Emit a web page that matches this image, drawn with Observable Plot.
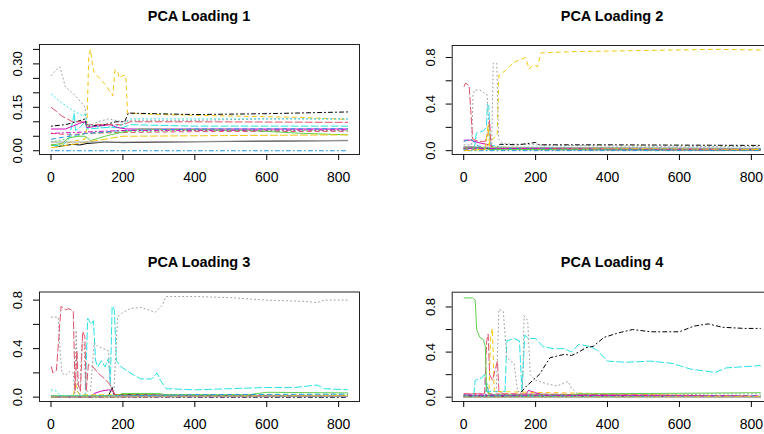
<!DOCTYPE html>
<html>
<head>
<meta charset="utf-8">
<script src="https://cdn.jsdelivr.net/npm/d3@7"></script>
<script src="https://cdn.jsdelivr.net/npm/@observablehq/plot@0.6"></script>
<style>
  html, body { margin: 0; padding: 0; background: #fff; }
  #chart { position: relative; width: 764px; height: 434px; overflow: hidden; background: #fff; font-family: "Liberation Sans", Arial, sans-serif; }
  .title { position: absolute; font-weight: bold; font-size: 14.5px; transform: translate(-50%, -50%); white-space: nowrap; color: #000; }
  .panel { position: absolute; }
</style>
</head>
<body>
<div id="chart"></div>
<script>
// ---- data ----
const titles = ["PCA Loading 1", "PCA Loading 2", "PCA Loading 3", "PCA Loading 4"];
const xTicks = [0, 200, 400, 600, 800];
const yTicks1 = [0, 0.05, 0.10, 0.15, 0.20, 0.25, 0.30, 0.35];
const yLabels1 = [0, 0.15, 0.30];
const yTicks234 = [0, 0.2, 0.4, 0.6, 0.8];
const yLabels234 = [0, 0.4, 0.8];

// each panel: 16 series (R matplot order), each a list of [index, loading]
const loading1 = [
  [[1,0.02],[20,0.015],[40,0.018],[60,0.022],[80,0.02],[100,0.025],[150,0.03],[200,0.028],[300,0.03],[500,0.032],[700,0.034],[825,0.035]],
  [[1,0.06],[50,0.055],[100,0.06],[200,0.063],[400,0.066],[825,0.067]],
  [[1,0.03],[40,0.04],[80,0.055],[100,0.06],[200,0.065],[400,0.07],[825,0.07]],
  [[1,0.0],[825,0.0]],
  [[1,0.02],[30,0.015],[50,0.04],[60,0.1],[65,0.13],[68,0.07],[80,0.08],[95,0.1],[100,0.075],[150,0.08],[200,0.08],[220,0.09],[400,0.085],[600,0.085],[825,0.085]],
  [[1,0.075],[40,0.075],[60,0.085],[80,0.095],[95,0.1],[100,0.08],[130,0.085],[165,0.09],[185,0.08],[210,0.075],[400,0.075],[825,0.075]],
  [[1,0.02],[40,0.025],[70,0.035],[95,0.04],[100,0.09],[105,0.33],[110,0.35],[115,0.3],[120,0.27],[150,0.23],[172,0.19],[178,0.28],[186,0.27],[190,0.25],[200,0.26],[208,0.26],[213,0.13],[300,0.125],[500,0.12],[700,0.115],[825,0.108]],
  [[1,0.26],[15,0.28],[25,0.29],[40,0.22],[60,0.2],[75,0.18],[95,0.15],[100,0.08],[130,0.1],[160,0.11],[200,0.1],[220,0.105],[400,0.105],[600,0.11],[825,0.11]],
  [[1,0.085],[40,0.09],[70,0.1],[95,0.11],[100,0.085],[150,0.09],[180,0.1],[205,0.1],[215,0.13],[400,0.125],[600,0.128],[825,0.134]],
  [[1,0.15],[30,0.12],[60,0.1],[90,0.1],[100,0.09],[200,0.09],[220,0.1],[400,0.1],[825,0.098]],
  [[1,0.02],[30,0.025],[50,0.045],[80,0.05],[95,0.05],[110,0.035],[150,0.05],[200,0.065],[250,0.075],[550,0.07],[700,0.06],[825,0.055]],
  [[1,0.04],[50,0.05],[100,0.06],[200,0.07],[400,0.075],[825,0.076]],
  [[1,0.195],[30,0.165],[60,0.14],[90,0.12],[95,0.13],[100,0.09],[150,0.08],[200,0.09],[220,0.11],[500,0.11],[825,0.11]],
  [[1,0.06],[100,0.065],[200,0.07],[825,0.072]],
  [[1,0.01],[100,0.03],[200,0.05],[825,0.055]],
  [[1,0.03],[200,0.03],[825,0.036]]
];
const loading2 = [
  [[1,0.03],[30,0.03],[60,0.02],[90,0.01],[825,0.005]],
  [[1,0.01],[825,0.005]],
  [[1,0.02],[100,0.01],[825,0.01]],
  [[1,0.0],[825,0.0]],
  [[1,0.02],[30,0.02],[35,0.15],[55,0.17],[63,0.2],[66,0.4],[70,0.38],[74,0.05],[100,0.03],[200,0.02],[825,0.015]],
  [[1,0.09],[20,0.09],[40,0.07],[70,0.05],[85,0.02],[825,0.01]],
  [[1,0.02],[60,0.02],[80,0.1],[88,0.12],[93,0.13],[98,0.65],[105,0.66],[120,0.7],[140,0.76],[172,0.8],[182,0.7],[190,0.73],[200,0.73],[205,0.72],[215,0.84],[300,0.85],[500,0.86],[700,0.87],[825,0.865]],
  [[1,0.05],[22,0.05],[26,0.48],[30,0.52],[45,0.52],[55,0.5],[65,0.48],[72,0.1],[78,0.05],[82,0.75],[92,0.75],[97,0.1],[110,0.06],[200,0.05],[400,0.04],[825,0.035]],
  [[1,0.02],[90,0.02],[100,0.055],[150,0.05],[200,0.07],[210,0.05],[400,0.05],[825,0.045]],
  [[1,0.55],[5,0.58],[15,0.56],[25,0.1],[40,0.08],[60,0.08],[68,0.15],[72,0.26],[76,0.05],[85,0.02],[825,0.015]],
  [[1,0.02],[100,0.01],[825,0.008]],
  [[1,0.08],[20,0.1],[40,0.04],[80,0.02],[825,0.01]],
  [[1,0.01],[100,0.03],[200,0.03],[825,0.02]],
  [[1,0.02],[825,0.01]],
  [[1,0.0],[60,0.01],[68,0.22],[72,0.03],[825,0.01]],
  [[1,0.03],[825,0.02]]
];
const loading3 = [
  [[1,0.0],[160,0.01],[170,0.08],[175,0.02],[825,0.005]],
  [[1,0.01],[825,0.01]],
  [[1,0.01],[825,0.02]],
  [[1,0.0],[825,0.0]],
  [[1,0.01],[95,0.01],[102,0.65],[112,0.6],[118,0.63],[124,0.3],[130,0.25],[140,0.3],[150,0.25],[160,0.32],[165,0.1],[170,0.75],[176,0.72],[182,0.3],[195,0.25],[220,0.2],[250,0.15],[280,0.15],[295,0.2],[302,0.15],[320,0.07],[400,0.06],[500,0.07],[600,0.08],[680,0.08],[740,0.1],[760,0.07],[825,0.06]],
  [[1,0.0],[110,0.0],[120,0.03],[140,0.05],[160,0.06],[172,0.05],[180,0.01],[825,0.005]],
  [[1,0.0],[62,0.0],[68,0.13],[72,0.05],[80,0.02],[825,0.01]],
  [[1,0.66],[20,0.66],[25,0.4],[30,0.2],[40,0.18],[50,0.21],[62,0.2],[66,0.02],[70,0.55],[74,0.05],[80,0.02],[86,0.45],[92,0.45],[96,0.05],[110,0.05],[120,0.45],[130,0.42],[145,0.4],[160,0.38],[166,0.05],[175,0.05],[185,0.66],[200,0.7],[220,0.73],[250,0.74],[290,0.7],[300,0.73],[310,0.76],[320,0.83],[400,0.83],[500,0.82],[600,0.8],[700,0.79],[740,0.78],[760,0.8],[825,0.8]],
  [[1,0.0],[825,0.0]],
  [[1,0.25],[5,0.2],[15,0.22],[22,0.5],[28,0.75],[40,0.72],[50,0.73],[62,0.71],[67,0.05],[72,0.38],[76,0.1],[82,0.05],[88,0.54],[94,0.5],[98,0.05],[104,0.27],[120,0.24],[130,0.2],[150,0.15],[165,0.1],[172,0.05],[180,0.01],[825,0.01]],
  [[1,0.01],[180,0.01],[200,0.03],[300,0.03],[320,0.02],[550,0.02],[600,0.04],[825,0.035]],
  [[1,0.0],[200,0.01],[400,0.02],[825,0.025]],
  [[1,0.06],[15,0.05],[25,0.01],[825,0.01]],
  [[1,0.0],[825,0.005]],
  [[1,0.0],[825,0.01]],
  [[1,0.0],[825,0.005]]
];
const loading4 = [
  [[1,0.01],[825,0.005]],
  [[1,0.03],[60,0.03],[825,0.01]],
  [[1,0.01],[825,0.01]],
  [[1,0.0],[60,0.01],[65,0.12],[70,0.02],[825,0.005]],
  [[1,0.02],[28,0.02],[32,0.15],[50,0.17],[58,0.2],[63,0.05],[115,0.05],[120,0.5],[140,0.52],[155,0.5],[162,0.05],[170,0.55],[180,0.52],[200,0.52],[220,0.45],[250,0.43],[280,0.43],[300,0.4],[320,0.47],[350,0.45],[370,0.42],[400,0.32],[450,0.31],[520,0.32],[580,0.3],[630,0.25],[700,0.22],[730,0.26],[825,0.28]],
  [[1,0.01],[170,0.01],[180,0.06],[200,0.04],[220,0.02],[825,0.005]],
  [[1,0.01],[70,0.01],[75,0.55],[80,0.61],[85,0.05],[825,0.005]],
  [[1,0.01],[90,0.01],[98,0.78],[110,0.76],[120,0.35],[140,0.3],[150,0.05],[163,0.05],[168,0.72],[178,0.68],[185,0.2],[200,0.15],[230,0.12],[260,0.1],[290,0.14],[300,0.08],[320,0.02],[600,0.02],[700,0.03],[825,0.03]],
  [[1,0.01],[150,0.01],[175,0.1],[210,0.2],[240,0.35],[280,0.38],[300,0.37],[320,0.4],[340,0.44],[360,0.45],[390,0.53],[430,0.57],[470,0.6],[520,0.58],[600,0.58],[640,0.63],[680,0.65],[720,0.62],[780,0.61],[825,0.61]],
  [[1,0.03],[58,0.03],[64,0.5],[68,0.56],[72,0.2],[80,0.15],[88,0.25],[94,0.32],[98,0.05],[110,0.03],[825,0.01]],
  [[1,0.88],[25,0.88],[32,0.86],[36,0.6],[45,0.53],[55,0.51],[60,0.45],[64,0.05],[80,0.02],[300,0.02],[320,0.03],[600,0.035],[825,0.04]],
  [[1,0.01],[825,0.01]],
  [[1,0.01],[825,0.005]],
  [[1,0.02],[825,0.01]],
  [[1,0.0],[825,0.005]],
  [[1,0.0],[825,0.0]]
];

// ---- styles (R default palette & line types, cycled like matplot) ----
const palette = ["#000000", "#DF536B", "#61D04F", "#2297E6", "#28E2E5", "#CD0BBC", "#F5C710", "#9E9E9E"];
const dashes = [null, "4,4", "1,3", "1,3,4,3", "7,3"];

const panels = [
  {data: loading1, yDomain: [-0.013, 0.367], yTicks: yTicks1, yLabels: yLabels1, fmt: d3.format(".2f"),
   left: 0, top: 0, width: 382, m: [44, 23, 63, 39], title: [199, 16]},
  {data: loading2, yDomain: [-0.033, 0.903], yTicks: yTicks234, yLabels: yLabels234, fmt: d3.format(".1f"),
   left: 382, top: 0, width: 400, m: [45, 10.3, 63, 69.7], title: [612, 16]},
  {data: loading3, yDomain: [-0.036, 0.867], yTicks: yTicks234, yLabels: yLabels234, fmt: d3.format(".1f"),
   left: 0, top: 217, width: 382, m: [74.5, 23, 33, 39], title: [199, 262]},
  {data: loading4, yDomain: [-0.038, 0.931], yTicks: yTicks234, yLabels: yLabels234, fmt: d3.format(".1f"),
   left: 382, top: 217, width: 400, m: [74.7, 10.3, 33, 69.7], title: [612, 262]}
];

const chart = document.getElementById("chart");
panels.forEach((p, k) => {
  const lines = p.data.map((pts, i) => Plot.line(pts, {
    x: d => d[0], y: d => d[1],
    stroke: palette[i % 8], strokeDasharray: dashes[i % 5], strokeWidth: 1
  }));
  const svg = Plot.plot({
    width: p.width, height: 217,
    marginTop: p.m[0], marginRight: p.m[1], marginBottom: p.m[2], marginLeft: p.m[3],
    style: {fontFamily: "'Liberation Sans', Arial, sans-serif", fontSize: "12px", background: "transparent", color: "#000"},
    x: {domain: [-32, 858]},
    y: {domain: p.yDomain},
    marks: [
      ...lines,
      Plot.frame({stroke: "#222", strokeWidth: 1}),
      Plot.axisX({ticks: xTicks, tickSize: 6, tickPadding: 11.5, fontSize: 14, tickFormat: d3.format("d")}),
      Plot.axisY({ticks: p.yTicks, tickSize: 6, tickPadding: 11.5, fontSize: 13, tickRotate: -90,
        tickFormat: d => p.yLabels.some(v => Math.abs(v - d) < 1e-9) ? p.fmt(d) : ""})
    ]
  });
  svg.classList.add("panel");
  svg.style.left = p.left + "px";
  svg.style.top = p.top + "px";
  svg.style.maxWidth = "none";
  chart.appendChild(svg);
  const t = document.createElement("div");
  t.className = "title";
  t.textContent = titles[k];
  t.style.left = p.title[0] + "px";
  t.style.top = p.title[1] + "px";
  chart.appendChild(t);
});
</script>
</body>
</html>
